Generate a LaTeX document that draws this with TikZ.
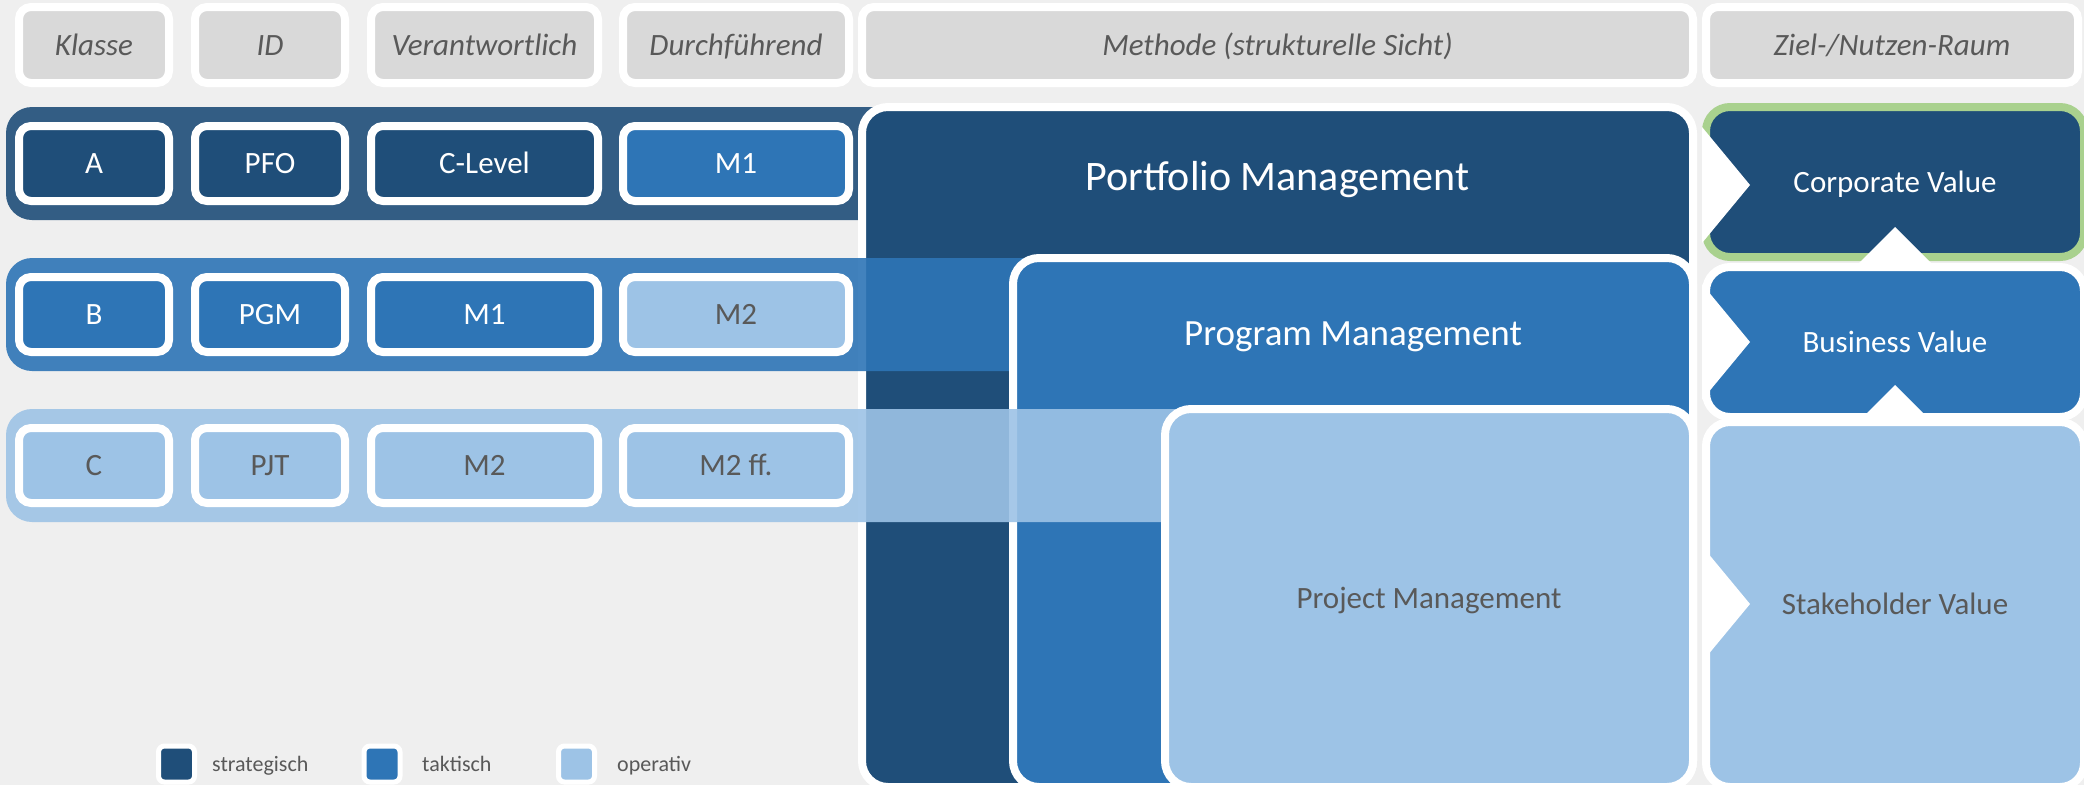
\documentclass[tikz,border=0pt]{standalone}
\usepackage{fontspec}
\setmainfont{Carlito}
\usetikzlibrary{positioning}

\definecolor{cStrat}{HTML}{1F4E79}
\definecolor{cTakt}{HTML}{2E75B6}
\definecolor{cOper}{HTML}{9DC3E6}
\definecolor{cKopf}{HTML}{D9D9D9}
\definecolor{cGrund}{HTML}{EFEFEF}
\definecolor{cSchrift}{HTML}{595959}
\definecolor{cGruen}{HTML}{A9D18E}

\begin{document}
\begin{tikzpicture}[x=1pt, y=-1pt,
    feld/.style={draw=white, line width=8pt, rounded corners=12pt, inner sep=0pt,
        minimum height=75pt, text height=20pt, text depth=0pt, font=\fontsize{31}{36}\selectfont},
    kopffeld/.style={feld, fill=cKopf, text=cSchrift, minimum height=76pt,
        font=\fontsize{31}{36}\selectfont\itshape},
    stratfeld/.style={feld, fill=cStrat, text=white},
    taktfeld/.style={feld, fill=cTakt, text=white},
    operfeld/.style={feld, fill=cOper, text=cSchrift},
    block/.style={draw=white, line width=8pt, rounded corners=26pt, inner sep=0pt},
    wert/.style={draw=white, line width=8pt, rounded corners=24pt, inner sep=0pt,
        minimum width=378pt, text height=20pt, text depth=0pt, font=\fontsize{31}{36}\selectfont},
    legfeld/.style={draw=white, line width=5pt, rounded corners=6pt, minimum size=36pt, inner sep=0pt},
    legtext/.style={text=cSchrift, inner sep=0pt, text height=15pt, text depth=0pt,
        font=\fontsize{22}{27}\selectfont}]

    % Hintergrund
    \useasboundingbox (0,0) rectangle (2084,785);
    \fill[cGrund] (0,0) rectangle (2084,785);

    % Kopfzeile
    \node[kopffeld, minimum width=150pt] (hklasse) at (94,45) {Klasse};
    \node[kopffeld, minimum width=150pt] (hid) at (270,45) {ID};
    \node[kopffeld, minimum width=227pt] (hverant) at (484.5,45) {Verantwortlich};
    \node[kopffeld, minimum width=226pt] (hdurch) at (736,45) {Durchführend};
    \node[kopffeld, minimum width=831pt] (hmethode) at (1277.5,45) {Methode (strukturelle Sicht)};
    \node[kopffeld, minimum width=372pt] (hziel) at (1892,45) {Ziel-/Nutzen-Raum};

    % Zeile A
    \fill[cStrat, opacity=0.9, rounded corners=26pt] (6,107) rectangle (1000,220);
    \node[stratfeld, minimum width=150pt] (a1) at (94,163.5) {A};
    \node[stratfeld, minimum width=150pt] (a2) at (270,163.5) {PFO};
    \node[stratfeld, minimum width=227pt] (a3) at (484.5,163.5) {C-Level};
    \node[taktfeld, minimum width=226pt] (a4) at (736,163.5) {M1};

    % Portfolio Management
    \node[block, fill=cStrat, minimum width=831pt, minimum height=680pt] (pfm) at (1277.5,447) {};
    \node[text=white, font=\fontsize{42}{48}\selectfont, anchor=base] (pfmtext) at (1277.5,190) {Portfolio Management};

    % Zeile B
    \fill[cTakt, opacity=0.9, rounded corners=26pt] (6,258) rectangle (1100,371);
    \node[taktfeld, minimum width=150pt] (b1) at (94,314.5) {B};
    \node[taktfeld, minimum width=150pt] (b2) at (270,314.5) {PGM};
    \node[taktfeld, minimum width=227pt] (b3) at (484.5,314.5) {M1};
    \node[operfeld, minimum width=226pt] (b4) at (736,314.5) {M2};

    % Program Management
    \node[block, fill=cTakt, minimum width=680pt, minimum height=529pt] (pgm) at (1353,522.5) {};
    \node[text=white, font=\fontsize{37}{44}\selectfont, anchor=base] (pgmtext) at (1353,345) {Program Management};

    % Zeile C
    \fill[cOper, opacity=0.9, rounded corners=26pt] (6,409) rectangle (1250,522);
    \node[operfeld, minimum width=150pt] (c1) at (94,465.5) {C};
    \node[operfeld, minimum width=150pt] (c2) at (270,465.5) {PJT};
    \node[operfeld, minimum width=227pt] (c3) at (484.5,465.5) {M2};
    \node[operfeld, minimum width=226pt] (c4) at (736,465.5) {M2 ff.};

    % Project Management
    \node[block, fill=cOper, text=cSchrift, minimum width=528pt, minimum height=378pt,
        text height=20pt, text depth=0pt, font=\fontsize{31}{36}\selectfont] (pjm) at (1429,598) {Project Management};

    % Ziel-/Nutzen-Raum
    \node[wert, fill=cStrat, draw=cGruen, text=white, minimum height=150pt] (corp) at (1895,182) {Corporate Value};
    \node[wert, fill=cTakt, text=white, minimum height=150pt] (busi) at (1895,342) {Business Value};
    \node[wert, fill=cOper, text=cSchrift, minimum height=365pt] (stake) at (1895,604.5) {Stakeholder Value};

    % Kerben
    \fill[white] (1702,127) -- (1750,185) -- (1702,243) -- cycle;
    \fill[white] (1702,284) -- (1750,342) -- (1702,400) -- cycle;
    \fill[white] (1702,546) -- (1750,604) -- (1702,662) -- cycle;
    \fill[white] (1859,263) -- (1895,227) -- (1931,263) -- cycle;
    \fill[white] (1859,421) -- (1895,385) -- (1931,421) -- cycle;

    % Legende
    \node[legfeld, fill=cStrat] (lstrat) at (176.5,764) {};
    \node[legtext, right=15pt of lstrat] (tstrat) {strategisch};
    \node[legfeld, fill=cTakt] (ltakt) at (382,764) {};
    \node[legtext, right=19.5pt of ltakt] (ttakt) {taktisch};
    \node[legfeld, fill=cOper] (loper) at (576.5,764) {};
    \node[legtext, right=20pt of loper] (toper) {operativ};

\end{tikzpicture}
\end{document}
